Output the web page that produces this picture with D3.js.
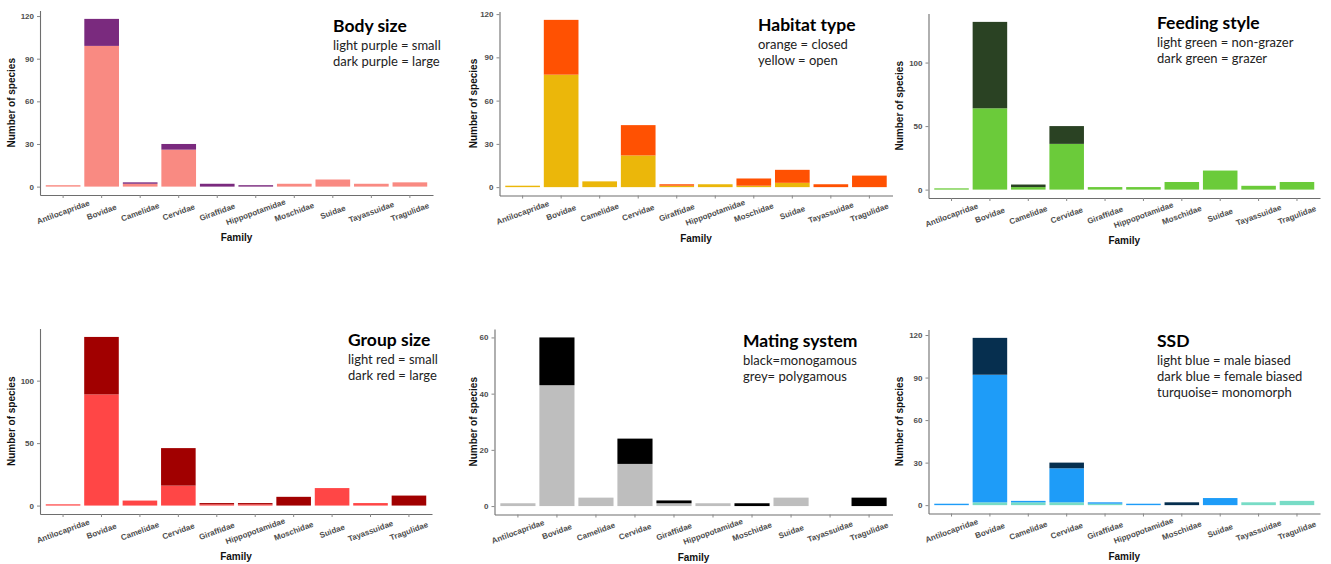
<!DOCTYPE html>
<html>
<head>
<meta charset="utf-8">
<script src="https://cdn.jsdelivr.net/npm/d3@7"></script>
<style>
  body { margin: 0; background: #fff; }
  .tick text { font-family: "Liberation Sans", Arial, sans-serif; }
</style>
</head>
<body>
<div id="chart"></div>
<script>
const width = 1331
const height = 564

// families on the x axis (same for every panel)
const families = ["Antilocapridae", "Bovidae", "Camelidae", "Cervidae", "Giraffidae",
  "Hippopotamidae", "Moschidae", "Suidae", "Tayassuidae", "Tragulidae"];

// stacked values, bottom series first
const bodySmall = [1, 99, 2, 26, 0, 0, 2, 5, 2, 3];
const bodyLarge = [0, 19, 1, 4, 2, 1, 0, 0, 0, 0];

const habitatOpen = [1, 78, 4, 22, 1, 2, 1, 3, 0, 0];
const habitatClosed = [0, 38, 0, 21, 1, 0, 5, 9, 2, 8];

const feedNonGrazer = [1, 64, 2, 36, 2, 2, 6, 15, 3, 6];
const feedGrazer = [0, 68, 2, 14, 0, 0, 0, 0, 0, 0];

const groupSmall = [1, 89, 4, 16, 1, 1, 0, 14, 2, 0];
const groupLarge = [0, 46, 0, 30, 1, 1, 7, 0, 0, 8];

const matePoly = [1, 43, 3, 15, 1, 1, 0, 3, 0, 0];
const mateMono = [0, 17, 0, 9, 1, 0, 1, 0, 0, 3];

const ssdMono = [0, 2, 2, 2, 1, 0, 0, 0, 2, 3];
const ssdMale = [1, 90, 1, 24, 1, 1, 0, 5, 0, 0];
const ssdFemale = [0, 26, 0, 4, 0, 0, 2, 0, 0, 0];

// y tick labels per panel
const ticksBody = [0, 30, 60, 90, 120];
const ticksHabitat = [0, 30, 60, 90, 120];
const ticksFeeding = [0, 50, 100];
const ticksGroup = [0, 50, 100];
const ticksMating = [0, 20, 40, 60];
const ticksSSD = [0, 30, 60, 90, 120];

// panel titles and legend lines
const titles = ["Body size", "Habitat type", "Feeding style", "Group size", "Mating system", "SSD"];
const notes = [
  ["light purple = small", "dark purple = large"],
  ["orange = closed", "yellow = open"],
  ["light green = non-grazer", "dark green = grazer"],
  ["light red = small", "dark red = large"],
  ["black=monogamous", "grey= polygamous"],
  ["light blue = male biased", "dark blue = female biased", "turquoise= monomorph"]
];

const panels = [
  { series: [bodySmall, bodyLarge], colors: ["#F98A82", "#7A2A7E"], ticks: ticksBody,
    left: 40, right: 433, top: 10.5, bottom: 195, ylab: 25, tx: 333, ty: 32 },
  { series: [habitatOpen, habitatClosed], colors: ["#EBB70A", "#FF5102"], ticks: ticksHabitat,
    left: 499.5, right: 892.5, top: 11.5, bottom: 195.5, ylab: 23, tx: 758, ty: 31 },
  { series: [feedNonGrazer, feedGrazer], colors: ["#6BCB3A", "#2A4223"], ticks: ticksFeeding,
    left: 928.5, right: 1320, top: 13.5, bottom: 198, ylab: 26, tx: 1157, ty: 29 },
  { series: [groupSmall, groupLarge], colors: ["#FF4646", "#A10000"], ticks: ticksGroup,
    left: 40, right: 432, top: 328.5, bottom: 514, ylab: 25, tx: 348, ty: 346 },
  { series: [matePoly, mateMono], colors: ["#BEBEBE", "#000000"], ticks: ticksMating,
    left: 494.5, right: 892.5, top: 329, bottom: 514.5, ylab: 18, tx: 743, ty: 347 },
  { series: [ssdMono, ssdMale, ssdFemale], colors: ["#78DCC6", "#1E9CF8", "#062F4F"], ticks: ticksSSD,
    left: 928.5, right: 1320, top: 329.5, bottom: 513.5, ylab: 26, tx: 1157, ty: 347 }
];

const svg = d3.select("#chart")
    .append("svg")
    .attr("width", width)
    .attr("height", height)
    .style("background-color", "#fff");

panels.forEach((p, pi) => {
    const g = svg.append("g");

    // table for d3.stack
    const keys = p.series.map((s, i) => "s" + i);
    const rows = families.map((f, i) => {
        const r = { family: f };
        p.series.forEach((s, k) => r["s" + k] = s[i]);
        return r;
    });
    const stacked = d3.stack().keys(keys)(rows);
    const maxTotal = d3.max(rows, r => d3.sum(keys, k => r[k]));

    const x = d3.scaleBand()
        .domain(families)
        .range([p.left, p.right])
        .paddingInner(0.1)
        .paddingOuter(0.15);

    const y = d3.scaleLinear()
        .domain([-0.05 * maxTotal, 1.05 * maxTotal])
        .range([p.bottom, p.top]);

    g.selectAll("g.layer")
        .data(stacked)
        .enter()
        .append("g")
        .attr("class", "layer")
        .attr("fill", (d, i) => p.colors[i])
        .selectAll("rect")
        .data(d => d.filter(v => v[1] - v[0] > 0))
        .enter()
        .append("rect")
        .attr("x", d => x(d.data.family))
        .attr("width", x.bandwidth())
        .attr("y", d => y(d[1]))
        .attr("height", d => y(d[0]) - y(d[1]));

    // y axis
    const yAxis = g.append("g")
        .attr("transform", `translate(${p.left},0)`)
        .call(d3.axisLeft(y).tickValues(p.ticks).tickSize(3).tickSizeOuter(0).tickPadding(3));
    yAxis.select(".domain").attr("stroke", "#6e6e6e").attr("stroke-width", 1.1);
    yAxis.selectAll(".tick line").attr("stroke", "#888");
    yAxis.selectAll(".tick text")
        .attr("fill", "#4d4d4d")
        .attr("font-size", 8)
        .attr("font-weight", "bold");

    // x axis
    const xAxis = g.append("g")
        .attr("transform", `translate(0,${p.bottom})`)
        .call(d3.axisBottom(x).tickSize(3).tickSizeOuter(0));
    xAxis.select(".domain").attr("stroke", "#6e6e6e").attr("stroke-width", 1.1);
    xAxis.selectAll(".tick line").attr("stroke", "#888");
    xAxis.selectAll(".tick text")
        .attr("fill", "#4d4d4d")
        .attr("font-size", 8)
        .attr("font-weight", "bold")
        .attr("y", 0)
        .attr("dy", "0.35em")
        .attr("text-anchor", "middle")
        .attr("transform", "translate(0,17) rotate(-20)");

    // axis titles
    g.append("text")
        .attr("transform", `translate(${p.left - p.ylab},${(p.top + p.bottom) / 2}) rotate(-90)`)
        .attr("text-anchor", "middle")
        .attr("font-family", "Liberation Sans, Arial, sans-serif")
        .attr("font-weight", "bold")
        .attr("font-size", 10)
        .attr("fill", "#111")
        .text("Number of species");

    g.append("text")
        .attr("x", (p.left + p.right) / 2)
        .attr("y", p.bottom + 46)
        .attr("text-anchor", "middle")
        .attr("font-family", "Liberation Sans, Arial, sans-serif")
        .attr("font-weight", "bold")
        .attr("font-size", 10)
        .attr("fill", "#111")
        .text("Family");

    // title + colour key
    g.append("text")
        .attr("x", p.tx)
        .attr("y", p.ty)
        .attr("font-family", "Lato, sans-serif")
        .attr("font-weight", "bold")
        .attr("font-size", 17.5)
        .attr("fill", "#000")
        .text(titles[pi]);

    g.selectAll("text.note")
        .data(notes[pi])
        .enter()
        .append("text")
        .attr("class", "note")
        .attr("x", p.tx)
        .attr("y", (d, i) => p.ty + 18 + i * 16)
        .attr("font-family", "Lato, sans-serif")
        .attr("font-size", 13)
        .attr("fill", "#222")
        .text(d => d);
});
</script>
</body>
</html>
